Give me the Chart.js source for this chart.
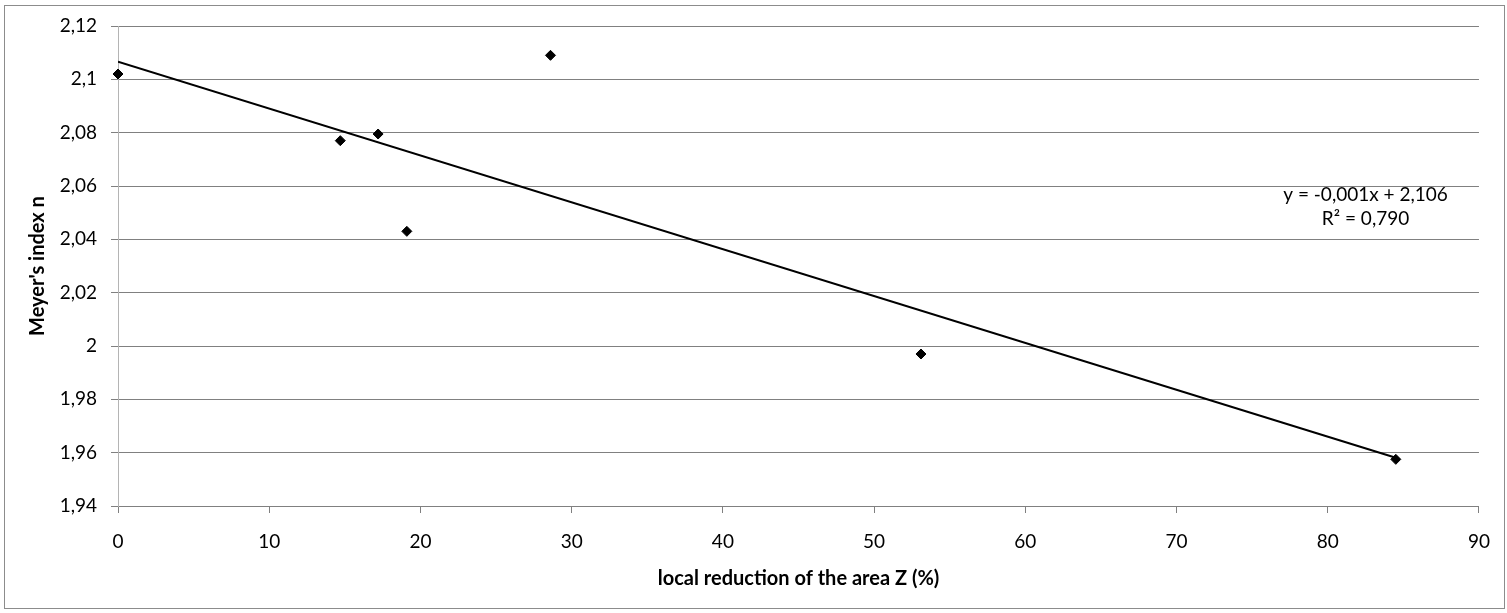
<!DOCTYPE html>
<html>
<head>
<meta charset="utf-8">
<script src="https://cdn.jsdelivr.net/npm/chart.js@4/dist/chart.umd.min.js"></script>
<style>
  html, body { margin: 0; padding: 0; background: #ffffff; }
  canvas { display: block; }
</style>
</head>
<body>
<canvas id="c" width="1507" height="613"></canvas>
<script>
// ---- data ----
const reductionZ = [0, 14.7, 17.2, 19.1, 28.6, 53.1, 84.5];
const meyerN     = [2.102, 2.077, 2.0795, 2.043, 2.109, 1.997, 1.9575];
const trendX     = [0, 84.5];
const trendY     = [2.1066, 1.9581];
const xTickLabels = ['0','10','20','30','40','50','60','70','80','90'];
const yTickLabels = ['1,94','1,96','1,98','2','2,02','2,04','2,06','2,08','2,1','2,12'];
const equationLines = ['y = -0,001x + 2,106', 'R\u00B2 = 0,790'];
const xTitle = 'local reduction of the area Z (%)';
const yTitle = "Meyer's index n";

const FONT = 'Lato, "Open Sans", sans-serif';
const GRID = '#808080';

const points = reductionZ.map((x, i) => ({ x: x, y: meyerN[i] }));
const trend = trendX.map((x, i) => ({ x: x, y: trendY[i] }));

const borderPlugin = {
  id: 'outerBorder',
  beforeDraw(chart) {
    const ctx = chart.ctx;
    ctx.save();
    ctx.fillStyle = '#ffffff';
    ctx.fillRect(0, 0, chart.width, chart.height);
    ctx.strokeStyle = '#8c8c8c';
    ctx.lineWidth = 1;
    ctx.strokeRect(4.5, 5.5, 1500, 603);
    ctx.restore();
  }
};

const equationPlugin = {
  id: 'equation',
  afterDatasetsDraw(chart, args, opts) {
    const ctx = chart.ctx;
    const xs = chart.scales.x, ys = chart.scales.y;
    ctx.save();
    ctx.fillStyle = '#000000';
    ctx.font = '19px ' + FONT;
    ctx.textAlign = 'center';
    ctx.textBaseline = 'middle';
    const px = xs.getPixelForValue(opts.x);
    opts.lines.forEach((t, i) => {
      ctx.fillText(t, px, ys.getPixelForValue(opts.ys[i]));
    });
    ctx.restore();
  }
};

new Chart(document.getElementById('c'), {
  type: 'scatter',
  data: {
    datasets: [
      {
        label: 'trend',
        type: 'line',
        data: trend,
        borderColor: '#000000',
        borderWidth: 2,
        pointRadius: 0,
        fill: false,
        tension: 0,
        order: 2
      },
      {
        label: 'n',
        data: points,
        pointStyle: 'rectRot',
        pointRadius: 5,
        backgroundColor: '#000000',
        borderColor: '#000000',
        borderWidth: 1,
        clip: false,
        order: 1
      }
    ]
  },
  options: {
    responsive: false,
    animation: false,
    devicePixelRatio: 1,
    layout: { padding: { top: 26, right: 27, bottom: 0, left: 0 } },
    plugins: {
      legend: { display: false },
      tooltip: { enabled: false },
      equation: { x: 82.5, ys: [2.0566, 2.0476], lines: equationLines }
    },
    scales: {
      x: {
        type: 'linear',
        min: 0, max: 90,
        afterFit(s) { s.height = 107; },
        ticks: {
          stepSize: 10,
          padding: 17,
          color: '#000000',
          font: { family: FONT, size: 19 },
          callback: (v, i) => xTickLabels[i]
        },
        grid: {
          drawOnChartArea: false,
          drawTicks: true,
          tickLength: 7,
          color: GRID
        },
        border: { display: true, color: GRID, width: 1 },
        title: {
          display: true,
          text: xTitle,
          color: '#000000',
          font: { family: FONT, size: 20, weight: 'bold' },
          padding: { top: 0, bottom: 22 }
        }
      },
      y: {
        type: 'linear',
        min: 1.94, max: 2.12,
        afterFit(s) { s.width = 118; },
        ticks: {
          stepSize: 0.02,
          padding: 14,
          color: '#000000',
          font: { family: FONT, size: 19 },
          callback: (v, i) => yTickLabels[i]
        },
        grid: {
          drawOnChartArea: true,
          drawTicks: true,
          tickLength: 7,
          color: GRID,
          lineWidth: 1
        },
        border: { display: true, color: '#b4b4b4', width: 1 },
        title: {
          display: true,
          text: yTitle,
          color: '#000000',
          font: { family: FONT, size: 20, weight: 'bold' },
          padding: { top: 26, bottom: 0 }
        }
      }
    }
  },
  plugins: [borderPlugin, equationPlugin]
});
</script>
</body>
</html>
